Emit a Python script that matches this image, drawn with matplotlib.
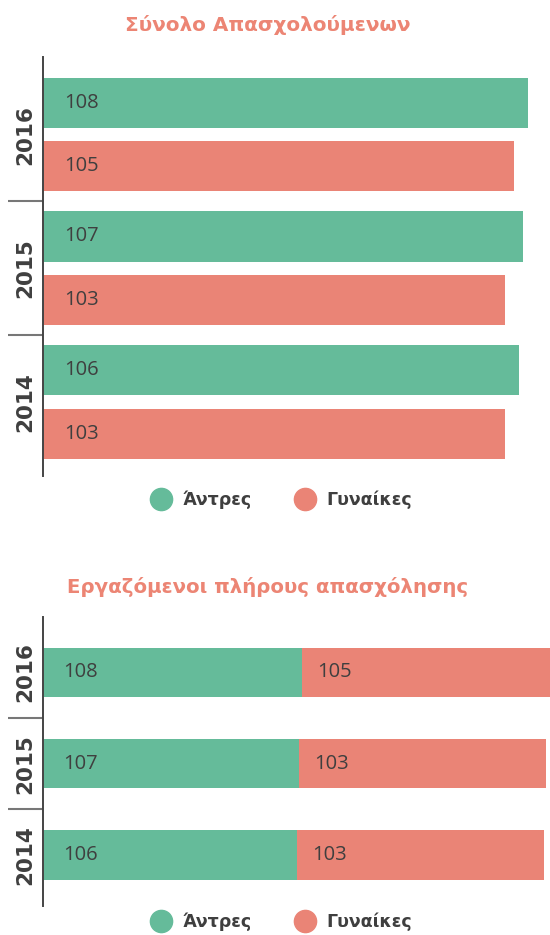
import matplotlib
matplotlib.use("Agg")
import matplotlib.pyplot as plt
from matplotlib.lines import Line2D
import matplotlib.transforms as mtransforms

years = ["2016", "2015", "2014"]
men_total = [108, 107, 106]
women_total = [105, 103, 103]
men_full = [108, 107, 106]
women_full = [105, 103, 103]
title_top = "Σύνολο Απασχολούμενων"
title_bottom = "Εργαζόμενοι πλήρους απασχόλησης"
legend_labels = ["Άντρες", "Γυναίκες"]

GREEN = "#65BB9A"
RED = "#EA8476"
TITLE_C = "#EC8574"
TEXT_C = "#3F3F3F"
AXIS_C = "#444444"
SEP_C = "#777777"

plt.rcParams['font.family'] = ['Open Sans', 'DejaVu Sans']

W, H = 550, 935
fig = plt.figure(figsize=(W / 100, H / 100), dpi=100)


def px_axes(x0, y0, x1, y1):
    return fig.add_axes([x0 / W, 1 - y1 / H, (x1 - x0) / W, (y1 - y0) / H])


def style_axes(ax):
    for s in ["top", "right", "bottom"]:
        ax.spines[s].set_visible(False)
    ax.spines["left"].set_color(AXIS_C)
    ax.spines["left"].set_linewidth(1.4)
    ax.set_xticks([])
    ax.tick_params(axis="y", length=0, pad=5.5)
    ax.set_yticks(range(len(years)))
    ax.set_yticklabels(years, rotation=90, va="center", ha="right",
                       fontsize=15.5, fontweight="bold", color=TEXT_C,
                       family="DejaVu Sans")
    trans = mtransforms.blended_transform_factory(ax.transAxes, ax.transData)
    for k in range(len(years) - 1):
        ax.plot([-0.068, 0], [k + 0.5, k + 0.5], color=SEP_C, lw=1.5,
                transform=trans, clip_on=False, solid_capstyle="butt")


def legend(ax, y_frac):
    handles = [Line2D([], [], marker="o", ls="", markersize=16,
                      markerfacecolor=c, markeredgecolor=c) for c in (GREEN, RED)]
    leg = fig.legend(handles, legend_labels, loc="center",
                     bbox_to_anchor=(0.513, y_frac), ncol=2, frameon=False,
                     handletextpad=0.75, columnspacing=2.6, handlelength=1.0,
                     prop={"family": "DejaVu Sans", "weight": "bold", "size": 12.5})
    for t in leg.get_texts():
        t.set_color(TEXT_C)


# ---------- Top chart ----------
ax1 = px_axes(42.7, 56.7, 550, 476)
style_axes(ax1)
bh = 0.375
off = 0.238
pos = list(range(len(years)))
b_m = ax1.barh([p - off for p in pos], men_total, height=bh, color=GREEN)
b_w = ax1.barh([p + off for p in pos], women_total, height=bh, color=RED)
ax1.set_xlim(0, 113)
ax1.set_ylim(2.554, -0.583)
for bars, vals in ((b_m, men_total), (b_w, women_total)):
    for b, v in zip(bars, vals):
        ax1.annotate(str(v), (0, b.get_y() + b.get_height() / 2),
                     xytext=(15.8, 0), textcoords="offset points",
                     va="center", ha="left", fontsize=14.5, color=TEXT_C)
fig.text(268 / W, 1 - 25 / H, title_top, ha="center", va="center",
         fontsize=14.4, fontweight="bold", color=TITLE_C, family="DejaVu Sans")
legend(ax1, 1 - 500 / H)

# ---------- Bottom chart ----------
ax2 = px_axes(42.7, 617.3, 550, 905.7)
style_axes(ax2)
bh2 = 0.542
s_m = ax2.barh(pos, men_full, height=bh2, color=GREEN)
s_w = ax2.barh(pos, women_full, left=men_full, height=bh2, color=RED)
ax2.set_xlim(0, 211.5)
ax2.set_ylim(2.556, -0.605)
for b, v in zip(s_m, men_full):
    ax2.annotate(str(v), (0, b.get_y() + b.get_height() / 2),
                 xytext=(14.5, 0), textcoords="offset points",
                 va="center", ha="left", fontsize=14.5, color=TEXT_C)
for b, v, m in zip(s_w, women_full, men_full):
    ax2.annotate(str(v), (m, b.get_y() + b.get_height() / 2),
                 xytext=(11, 0), textcoords="offset points",
                 va="center", ha="left", fontsize=14.5, color=TEXT_C)
fig.text(268 / W, 1 - 587 / H, title_bottom, ha="center", va="center",
         fontsize=14.2, fontweight="bold", color=TITLE_C, family="DejaVu Sans")
legend(ax2, 1 - 922 / H)

fig.savefig("out.png", dpi=100)
